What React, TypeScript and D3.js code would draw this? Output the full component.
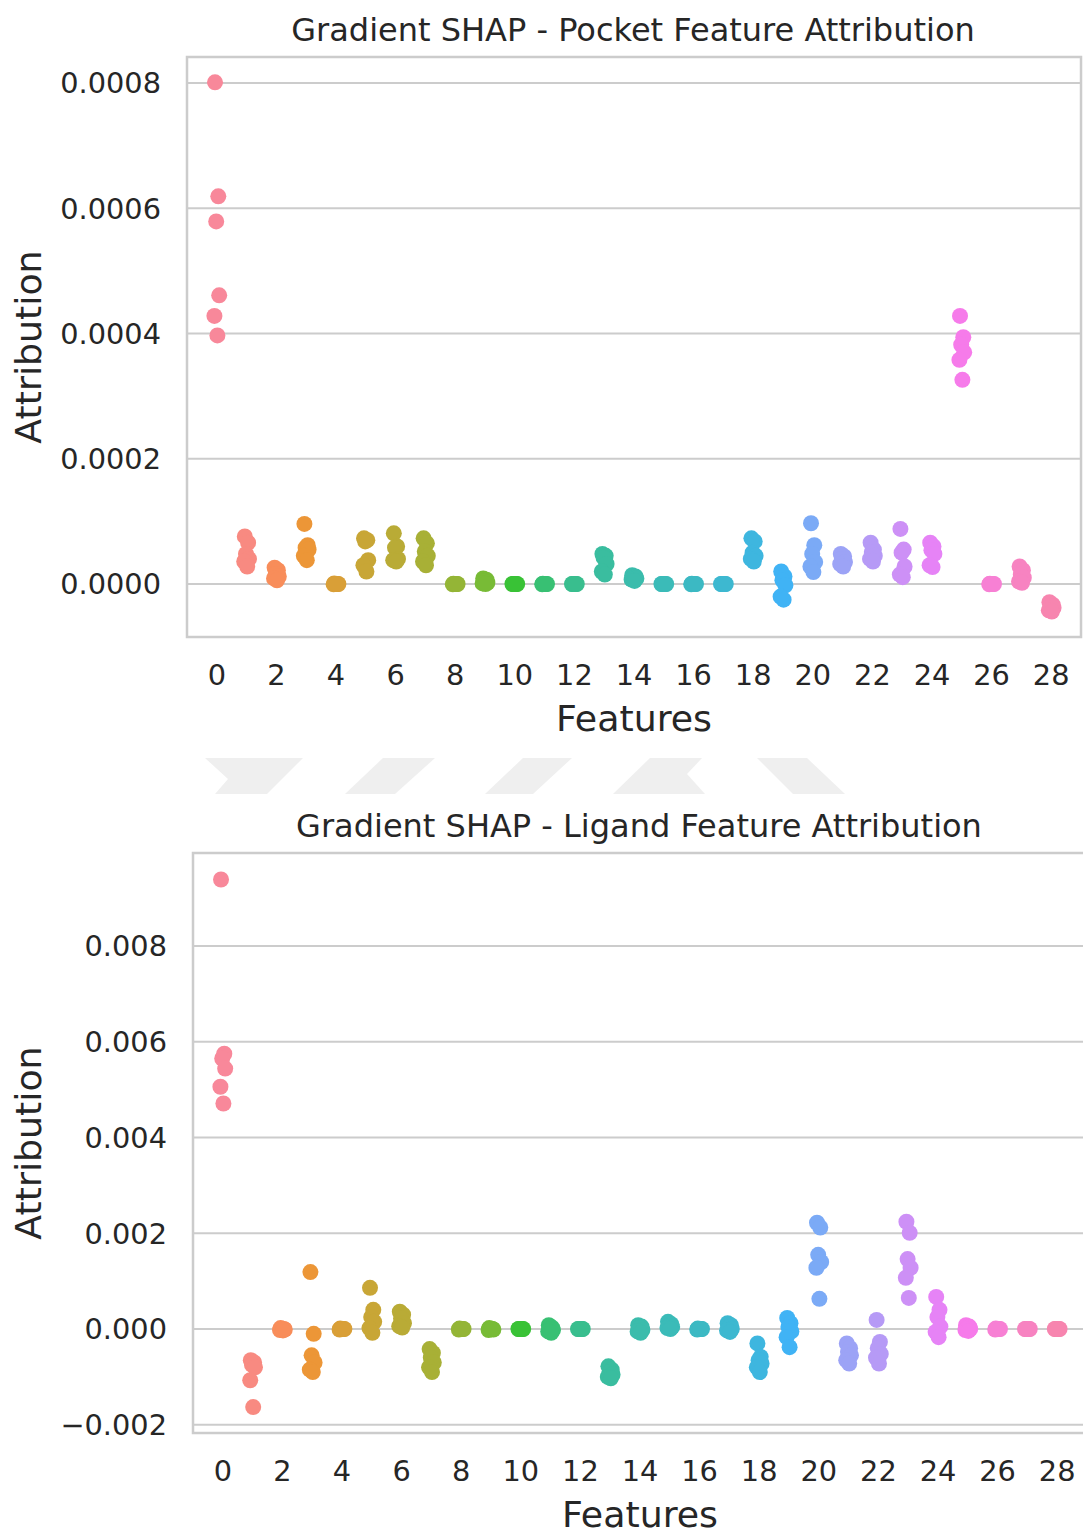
import React from "react";
import * as d3 from "d3";

// ---------- data ----------
const FEATURES = [0, 1, 2, 3, 4, 5, 6, 7, 8, 9, 10, 11, 12, 13, 14, 15, 16, 17, 18, 19, 20, 21, 22, 23, 24, 25, 26, 27, 28];
const X_TICKS = [0, 2, 4, 6, 8, 10, 12, 14, 16, 18, 20, 22, 24, 26, 28];

const POCKET_TITLE = "Gradient SHAP - Pocket Feature Attribution";
const LIGAND_TITLE = "Gradient SHAP - Ligand Feature Attribution";

const POCKET_TICKS = [0, 0.0002, 0.0004, 0.0006, 0.0008];
const LIGAND_TICKS = [-0.002, 0, 0.002, 0.004, 0.006, 0.008];

// attribution values per feature (6 samples each), x 1e-5 for pocket
const POCKET_E5: number[][] = [
  [80.1, 61.9, 57.9, 46.1, 42.8, 39.7],
  [7.6, 6.6, 4.8, 4.0, 3.6, 2.8],
  [2.6, 2.2, 1.6, 1.2, 0.9, 0.6],
  [9.6, 6.2, 5.8, 5.5, 4.5, 3.8],
  [0.1, 0.0, 0.0, 0.0, -0.05, 0.0],
  [7.3, 7.0, 6.8, 3.8, 3.0, 2.0],
  [8.1, 6.0, 5.8, 4.0, 3.8, 3.6],
  [7.3, 6.5, 5.2, 4.5, 3.6, 3.0],
  [0.05, 0.0, 0.0, 0.0, -0.05, 0.0],
  [0.9, 0.7, 0.4, 0.2, 0.1, 0.0],
  [0.0, 0.0, 0.0, 0.0, 0.0, 0.0],
  [0.05, 0.0, 0.0, 0.0, -0.05, 0.0],
  [0.0, 0.0, 0.0, 0.0, 0.0, 0.0],
  [4.8, 4.5, 4.2, 3.2, 2.0, 1.5],
  [1.4, 1.2, 1.0, 0.9, 0.7, 0.5],
  [0.0, 0.0, 0.0, 0.0, 0.0, 0.0],
  [0.05, 0.0, 0.0, 0.0, -0.05, 0.0],
  [0.0, 0.0, 0.0, 0.0, 0.0, 0.0],
  [7.3, 6.8, 5.0, 4.5, 4.0, 3.6],
  [2.0, 1.2, 0.6, -0.2, -2.0, -2.5],
  [9.7, 6.2, 4.8, 3.5, 2.8, 1.9],
  [4.8, 4.4, 4.0, 3.5, 3.2, 2.8],
  [6.6, 5.5, 5.1, 4.5, 4.0, 3.6],
  [8.8, 5.5, 5.0, 2.8, 1.5, 1.1],
  [6.6, 6.0, 5.4, 4.8, 3.0, 2.7],
  [42.8, 39.4, 38.2, 37.0, 35.8, 32.6],
  [0.05, 0.0, 0.0, 0.0, -0.05, 0.0],
  [2.8, 2.2, 1.5, 1.0, 0.4, 0.2],
  [-2.9, -3.3, -3.5, -3.8, -4.2, -4.4],
];

// ligand values x 1e-4
const LIGAND_E4: number[][] = [
  [93.9, 57.5, 56.5, 54.4, 50.6, 47.1],
  [-6.5, -7.0, -7.5, -8.0, -10.7, -16.3],
  [0.2, 0.0, 0.0, -0.1, -0.2, -0.3],
  [11.9, -1.0, -5.5, -7.0, -8.5, -9.0],
  [0.1, 0.0, 0.0, 0.0, -0.1, 0.0],
  [8.6, 4.0, 2.5, 1.5, 0.2, -0.8],
  [3.6, 3.0, 2.2, 1.2, 0.6, 0.3],
  [-4.2, -5.0, -6.0, -7.0, -8.0, -9.0],
  [0.1, 0.0, 0.0, 0.0, -0.1, 0.0],
  [0.2, 0.0, 0.0, -0.1, -0.2, 0.0],
  [0.0, 0.0, 0.0, 0.0, 0.0, 0.0],
  [0.8, 0.3, 0.0, -0.2, -0.5, -0.8],
  [0.0, 0.0, 0.0, 0.0, 0.0, 0.0],
  [-7.8, -8.5, -9.0, -9.5, -10.0, -10.3],
  [0.8, 0.5, 0.2, -0.2, -0.5, -0.8],
  [1.5, 1.0, 0.6, 0.4, 0.2, 0.0],
  [0.1, 0.0, 0.0, 0.0, -0.1, 0.0],
  [1.2, 0.8, 0.3, 0.0, -0.3, -0.6],
  [-3.0, -5.8, -6.5, -7.2, -8.0, -9.0],
  [2.3, 1.2, 0.4, -0.5, -1.7, -3.8],
  [22.2, 21.2, 15.5, 14.0, 12.8, 6.3],
  [-3.0, -4.0, -4.8, -5.5, -6.5, -7.2],
  [1.9, -2.7, -4.0, -5.2, -6.0, -7.2],
  [22.4, 20.1, 14.6, 12.8, 10.7, 6.5],
  [6.7, 4.0, 2.5, 0.5, -0.6, -1.7],
  [0.8, 0.5, 0.2, 0.0, -0.2, -0.4],
  [0.1, 0.0, 0.0, 0.0, -0.1, 0.0],
  [0.0, 0.0, 0.0, 0.0, 0.0, 0.0],
  [0.0, 0.0, 0.0, 0.0, 0.0, 0.0],
];

const POCKET: number[][] = POCKET_E5.map((r) => r.map((v) => v * 1e-5));
const LIGAND: number[][] = LIGAND_E4.map((r) => r.map((v) => v * 1e-4));

// fixed strip jitter (category units) per sample index
const JITTER = [-0.06, 0.05, -0.02, 0.08, -0.08, 0.02];

// ---------- husl palette (seaborn) ----------
const HM = [
  [3.2406, -1.5372, -0.4986],
  [-0.9689, 1.8758, 0.0415],
  [0.0557, -0.204, 1.057],
];
function maxChroma(L: number, H: number) {
  const hrad = (H / 180) * Math.PI;
  const sinH = Math.sin(hrad), cosH = Math.cos(hrad);
  const sub1 = Math.pow(L + 16, 3) / 1560896;
  const sub2 = sub1 > 0.008856 ? sub1 : L / 903.3;
  let result = Infinity;
  for (const [m1, m2, m3] of HM) {
    const top = (0.99915 * m1 + 1.05122 * m2 + 1.1446 * m3) * sub2;
    const rb = 0.8633 * m3 - 0.17266 * m2;
    const lb = 0.12949 * m3 - 0.38848 * m1;
    const bottom = (rb * sinH + lb * cosH) * sub2;
    for (const t of [0, 1]) {
      const C = (L * (top - 1.05122 * t)) / (bottom + 0.17266 * sinH * t);
      if (C > 0 && C < result) result = C;
    }
  }
  return result;
}
function huslToRgb(H: number, S: number, L: number) {
  const C = (maxChroma(L, H) / 100) * S;
  const hr = (H / 180) * Math.PI;
  const U = Math.cos(hr) * C, V = Math.sin(hr) * C;
  const t = (L + 16) / 116;
  const varY = t * t * t > 0.008856 ? t * t * t : (116 * t - 16) / 903.3;
  const varU = U / (13 * L) + 0.19784;
  const varV = V / (13 * L) + 0.46834;
  const Y = varY;
  const X = -(9 * Y * varU) / ((varU - 4) * varV - varU * varV);
  const Z = (9 * Y - 15 * varV * Y - varV * X) / (3 * varV);
  const lin = HM.map(([a, b, c]) => a * X + b * Y + c * Z);
  const rgb = lin.map((c) => {
    const v = c <= 0.0031308 ? 12.92 * c : 1.055 * Math.pow(c, 1 / 2.4) - 0.055;
    return Math.round(Math.max(0, Math.min(1, v)) * 255);
  });
  return d3.rgb(rgb[0], rgb[1], rgb[2]).formatHex();
}
function huslPalette(n: number, h = 0.01, s = 0.9, l = 0.7) {
  return d3.range(n).map((i) => huslToRgb((((i / n) + h) % 1) * 359, s * 99, l * 99));
}
const COLORS = huslPalette(FEATURES.length);

// ---------- chart ----------
const FONT = "DejaVu Sans, sans-serif";
const TEXT = "#262626";
const GRID = "#cccccc";

type PanelProps = {
  title: string;
  data: number[][];
  ticks: number[];
  fmt: (v: number) => string;
  left: number; right: number; top: number; bottom: number;
  yDomain: [number, number];
};

function Panel({ title, data, ticks, fmt, left, right, top, bottom, yDomain }: PanelProps) {
  const x = d3.scaleLinear().domain([-1, 29]).range([left, right]);
  const y = d3.scaleLinear().domain(yDomain).range([bottom, top]);
  const cx = (left + right) / 2;
  return (
    <g>
      {ticks.map((t) => (
        <line key={"g" + t} x1={left} x2={right} y1={y(t)} y2={y(t)} stroke={GRID} strokeWidth={2} />
      ))}
      <rect x={left} y={top} width={right - left} height={bottom - top} fill="none" stroke={GRID} strokeWidth={2.5} />
      {ticks.map((t) => (
        <text key={"t" + t} x={left - 26} y={y(t)} dy="0.36em" textAnchor="end" fontSize={28.8} fill={TEXT} fontFamily={FONT}>
          {fmt(t)}
        </text>
      ))}
      {X_TICKS.map((t) => (
        <text key={"x" + t} x={x(t)} y={bottom + 48} textAnchor="middle" fontSize={28.8} fill={TEXT} fontFamily={FONT}>
          {t}
        </text>
      ))}
      <text x={cx} y={bottom + 94} textAnchor="middle" fontSize={36.3} fill={TEXT} fontFamily={FONT}>Features</text>
      <text transform={`translate(41,${(top + bottom) / 2}) rotate(-90)`} textAnchor="middle" fontSize={36.3} fill={TEXT} fontFamily={FONT}>
        Attribution
      </text>
      <text x={cx - 1} y={top - 16} textAnchor="middle" fontSize={32} fill={TEXT} fontFamily={FONT}>{title}</text>
      {FEATURES.map((f, i) =>
        data[i].map((v, j) => (
          <circle key={`p${i}-${j}`} cx={x(f + JITTER[j])} cy={y(v)} r={8} fill={COLORS[i]} />
        ))
      )}
    </g>
  );
}

// faint background watermark shapes between the panels
const WATERMARK = [
  "205,758 303,758 267,794 215,794 228,779",
  "383,758 435,758 395,794 345,794",
  "523,758 572,758 533,794 485,794",
  "650,758 702,758 687,774 705,794 613,794",
  "757,758 807,758 845,794 793,794",
];

export default function App() {
  const f4 = d3.format(".4f");
  const f3 = d3.format(".3f");
  return (
    <svg width={1083} height={1533} style={{ position: "absolute", left: 0, top: 0, background: "#fff" }}>
      <rect width={1083} height={1533} fill="#fff" />
      {WATERMARK.map((p, i) => (
        <polygon key={i} points={p} fill="#efefef" />
      ))}
      <Panel title={POCKET_TITLE} data={POCKET} ticks={POCKET_TICKS} fmt={(v) => f4(v)}
        left={187} right={1081} top={57} bottom={637} yDomain={[-0.0000846, 0.0008415]} />
      <Panel title={LIGAND_TITLE} data={LIGAND} ticks={LIGAND_TICKS} fmt={(v) => f3(v)}
        left={193} right={1087} top={853} bottom={1433} yDomain={[-0.002172, 0.009943]} />
    </svg>
  );
}
